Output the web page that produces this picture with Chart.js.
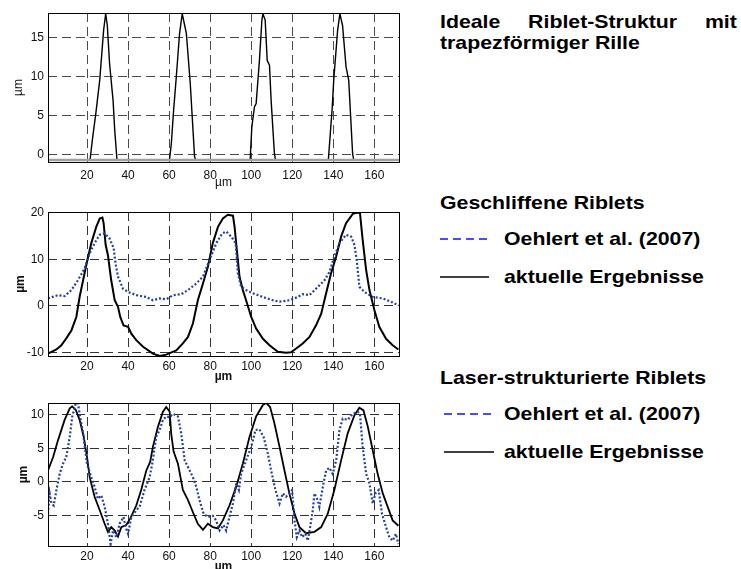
<!DOCTYPE html>
<html>
<head>
<meta charset="utf-8">
<script src="https://cdn.jsdelivr.net/npm/chart.js@4.4.1/dist/chart.umd.min.js"></script>
<style>
  html, body { margin: 0; padding: 0; background: #fff; overflow: hidden; }
  #page { position: relative; width: 741px; height: 569px; font-family: "Liberation Sans", Arial, sans-serif; }
  .plot { position: absolute; left: 0; width: 410px; }
  .txt { position: absolute; font-weight: bold; font-size: 19px; color: #000; white-space: nowrap;
         transform: translateY(-50%) scaleX(1.12); transform-origin: left center; }
  #title1 { position: absolute; left: 440px; top: 11px; width: 265px; font-weight: bold; font-size: 19px;
            line-height: 21px; text-align: justify; transform: scaleX(1.12); transform-origin: left top; }
  svg.key { position: absolute; }
</style>
</head>
<body>
<div id="page">
  <div class="plot" style="top:0px;height:190px"><canvas id="plotIdeal"></canvas></div>
  <div class="plot" style="top:190px;height:195px"><canvas id="plotGround"></canvas></div>
  <div class="plot" style="top:380px;height:196px"><canvas id="plotLaser"></canvas></div>

  <div id="title1">Ideale Riblet-Struktur mit trapezförmiger Rille</div>

  <div class="txt" style="left:440px;top:203px">Geschliffene Riblets</div>
  <svg class="key" style="left:440px;top:234px" width="60" height="10"><line x1="0" y1="5" x2="50" y2="5" stroke="#1010ff" stroke-width="1.6" stroke-dasharray="8,5"/></svg>
  <div class="txt" style="left:504px;top:239px">Oehlert et al. (2007)</div>
  <svg class="key" style="left:440px;top:272px" width="60" height="10"><line x1="0" y1="5" x2="49" y2="5" stroke="#000" stroke-width="1.6"/></svg>
  <div class="txt" style="left:504px;top:277px">aktuelle Ergebnisse</div>

  <div class="txt" style="left:440px;top:378px">Laser-strukturierte Riblets</div>
  <svg class="key" style="left:444px;top:409px" width="60" height="10"><line x1="0" y1="5" x2="50" y2="5" stroke="#1010ff" stroke-width="1.6" stroke-dasharray="8,5"/></svg>
  <div class="txt" style="left:504px;top:414px">Oehlert et al. (2007)</div>
  <svg class="key" style="left:444px;top:447px" width="60" height="10"><line x1="0" y1="5" x2="50" y2="5" stroke="#000" stroke-width="1.6"/></svg>
  <div class="txt" style="left:504px;top:452px">aktuelle Ergebnisse</div>
</div>

<script>
// x ticks shared by all three plots
const xTicks = [20, 40, 60, 80, 100, 120, 140, 160];

// ideal trapezoid riblet profile
const idealX = [1, 21.5, 22.6, 24.5, 26.2, 28.1, 29.1, 29.9, 31.0, 32.7, 33.5, 34.6,
  60.2, 61.1, 62.2, 63.5, 65.1, 66.4, 67.6, 68.4, 70.3, 72.4, 72.9,
  99.5, 100.3, 101.6, 102.4, 104, 105.2, 105.7, 106.8, 107.8, 108.9, 109.7, 111.3, 111.8,
  137.6, 138.6, 139.4, 140.2, 142.1, 143.2, 144.5, 146.2, 147.5, 149.4, 149.9, 172];
const idealY = [-0.6, -0.6, 1.9, 5.75, 9.6, 16, 18.1, 16.6, 11.7, 7, 3.2, -0.6,
  -0.6, 1.5, 5.75, 10, 15.6, 18.1, 16.6, 15.6, 9.2, -0.2, -0.6,
  -0.6, 3.6, 6.2, 6.6, 12.1, 17.3, 18.1, 17.3, 12.1, 11.5, 7, 0.2, -0.6,
  -0.6, 3, 5.8, 9.6, 16, 18.1, 16.6, 11.3, 9.6, 0.2, -0.6, -0.6];
const idealBaseX = [1, 172];
const idealBaseY = [-0.65, -0.65];
const idealYTicks = [0, 5, 10, 15];

// ground riblets
const groundAktX = [1, 5.1, 7.5, 9.9, 12.4, 14.8, 16.4, 18.1, 20, 22.1, 24.5, 26.2, 27.5, 28.1, 29.1, 30.2,
  31.8, 33.5, 35.1, 36.2, 37.8, 40, 41.6, 44, 47.3, 52.1, 55.4, 58.6, 63.5, 66.7, 69.2, 71.6, 74, 76.5,
  78.9, 81.3, 83.8, 86.2, 88.6, 91.1, 91.9, 93, 94.3, 95.9, 97.5, 100, 102.4, 105.7, 108.9, 113, 117,
  119.4, 121.9, 125.1, 128.4, 131.6, 134.1, 136.5, 138.9, 141.4, 143.8, 146.2, 149.5, 151.9, 153, 154.3,
  156, 157.6, 160, 162.4, 165.7, 168.9, 171.7];
const groundAktY = [-10.3, -9.4, -8.5, -7, -5.3, -2.4, 1.9, 5.5, 9.5, 13.5, 17, 18.8, 19, 17.8, 13.1, 10.9,
  5.5, 1.2, -0.2, -2.4, -4.2, -4.5, -6, -7.4, -8.8, -10.3, -10.8, -10.5, -9.6, -8.1, -6.7, -3.8, 1.2, 4.8,
  8.4, 13.5, 17, 18.8, 19.6, 19.4, 17, 12, 6.3, 3.4, 1.2, -2.4, -4.9, -7.1, -8.5, -9.9, -10.1,
  -10, -9.2, -8.1, -6.7, -4.2, -1.7, 2.7, 7, 10.6, 14.9, 17.8, 19.8, 20.1, 19.9, 14.2,
  7.7, 3.4, -0.9, -4.5, -7.1, -8.5, -9.4];
const groundOehX = [1, 5.9, 9.1, 12.4, 15.6, 18.9, 21.3, 23.7, 26.2, 28.6, 31, 33, 33.9, 35.1, 37.5, 40,
  44, 48.9, 52.1, 55.4, 58.6, 61.9, 65.9, 69.2, 73.2, 76.5, 79.7, 83, 85.9, 87.8, 90.3, 92.4, 93.5, 95.1,
  97.5, 100.8, 105.7, 110.5, 113.8, 118.6, 122.7, 125.1, 128.4, 131.6, 135.7, 138.1, 140.5, 143, 146.2,
  148.7, 150.3, 151.4, 152.7, 155.1, 159.2, 164.1, 168.1, 171.7];
const groundOehY = [1.6, 2.3, 2.1, 3.4, 5.5, 8.1, 11.3, 13.5, 15.3, 15.6, 14.5, 12.4, 9.1, 6.3, 3.7, 3,
  2.3, 1.9, 1.2, 1.6, 1.4, 2.3, 2.5, 3.4, 4.8, 6.3, 9.9, 13.5, 15.6, 16, 14.9, 13.5, 7, 4.1,
  3.4, 2.7, 1.9, 1.2, 0.9, 1.2, 1.9, 2.5, 2.3, 3.7, 5.5, 7.3, 10.6, 13.5, 15.3,
  14.9, 13.1, 9.9, 4.1, 3, 1.9, 1.6, 0.9, 0.1];
const groundYTicks = [-10, 0, 10, 20];

// laser structured riblets
const laserAktX = [1, 3.5, 5.9, 9.1, 11.6, 12.8, 14.5, 16.4, 18.4, 20, 21.3, 23.7, 26.2, 28.6, 30.2, 31.8,
  33.5, 35.1, 36.7, 39.1, 41.1, 44, 46.4, 48.9, 50.8, 52.1, 54.6, 57, 58.6, 60.3, 61, 62.2, 64.3, 66.7,
  69.2, 71.6, 74, 76.5, 78.9, 81.3, 83.8, 86.2, 89.4, 92.7, 95.9, 99.2, 102.4, 105.7, 107.3, 109.2,
  111.3, 113.8, 116.2, 118.6, 121.1, 123.5, 126.7, 130.8, 134.1, 137.3, 140.5, 143.8, 147, 150.3,
  152.7, 154.7, 156.8, 159.2, 161.6, 164.1, 166.5, 168.9, 171.7];
const laserAktY = [1.7, 3.7, 6.2, 9.2, 10.9, 11.2, 10.7, 9.2, 6.7, 3.7, 0.7, -2.2, -4.2, -6.2, -7.4, -6.7,
  -7.2, -8.1, -6.7, -6.4, -5.4, -3.5, -1.2, 1.7, 3, 5.2, 8.2, 10.4, 11.1, 10.4, 7.2, 4.5, 2.7, -1.2,
  -2.7, -4.5, -6.2, -7.1, -6.2, -6.7, -6.9, -5.7, -3.5, -0.7, 2.7, 6.7, 9.7, 11.4, 11.7, 11.1,
  8.7, 5.2, 1.7, -1.7, -4.7, -6.7, -7.6, -7.4, -6.7, -4.7, -1.2, 3.2, 7.2, 9.9,
  11, 10.6, 8.2, 4.7, 1.2, -1.7, -3.7, -5.7, -6.5];
const laserOehX = [1, 1.8, 2.7, 3.8, 5.1, 6.7, 8.3, 9.9, 11.6, 12.8, 14.5, 15.6, 16.4, 18.1, 20, 22.1,
  23.7, 25.3, 27, 28.6, 30.2, 31.5, 32.7, 34.3, 35.9, 37.8, 38.8, 40, 41.6, 44, 45.6, 48, 50.5, 52.1,
  53.7, 55.4, 57, 58.6, 60.3, 61.9, 64.3, 65.9, 67.6, 69.2, 71.6, 73.2, 74.8, 76.8, 78.9, 81.3, 82.9,
  84.6, 86.5, 87.8, 89.4, 91.1, 92.7, 94, 95.1, 97.5, 100, 102.1, 104, 106, 108.1, 109.7, 111.8,
  113.8, 115.4, 117, 118.6, 119.9, 121.1, 122.2, 123.5, 124.8, 126.4, 127.6, 128.7, 130, 130.8,
  132.4, 133.2, 134.9, 136.5, 138.1, 139.7, 141.4, 143, 144.6, 147, 149.5, 151.9, 153, 154.3, 156,
  157.6, 159.2, 160.5, 162.1, 163.7, 165.7, 167.3, 168.9, 170.5, 171.7];
const laserOehY = [-4.7, -1.7, -3.2, -3.5, -1.2, 1.2, 2.7, 3.7, 6.7, 9.7, 11.6, 11.7, 10.1, 7.2, 2.7, 0.7,
  -0.7, -2.5, -2, -3.7, -6.2, -9.2, -7.2, -8.2, -6.2, -5.2, -6.7, -7.7, -5.2, -4.2, -3.7, -1.2, 0.7, 3.2,
  6.7, 7.7, 9.2, 9.7, 9.6, 10.1, 9.7, 7.2, 3.2, 2.2, 0.7, -0.7, -2.7, -4.7, -5.2, -5, -5.7,
  -7.2, -6.4, -7.2, -5.2, -3.2, -0.2, -1.2, 1.2, 3.2, 5.2, 7.7, 7.8, 6.7, 4.2, 1.7, -1.2,
  -3.2, -1.7, -2.2, -1.7, -1.2, -5.7, -8.2, -7.2, -8.2, -7.7, -8.7, -6.7, -4.2, -1.7,
  -2.7, -3.7, -0.7, 1.7, 2.1, 1.2, 3.2, 7.7, 9.4, 9.2, 10.1, 10.4, 10.1, 5.2, 1.2,
  -0.2, -3.2, -1.7, -1.2, -4.7, -6.7, -8.2, -8.7, -7.7, -9.2];
const laserYTicks = [-5, 0, 5, 10];

function pts(xs, ys) {
  return xs.map((x, i) => ({ x: x, y: ys[i] }));
}

// draws the closed black frame round the plot area
const frame = {
  id: 'frame',
  afterDraw(chart) {
    const a = chart.chartArea, ctx = chart.ctx;
    ctx.save();
    ctx.strokeStyle = '#000';
    ctx.lineWidth = 1;
    ctx.strokeRect(Math.round(a.left) + 0.5, Math.round(a.top) + 0.5,
      Math.round(a.right - a.left), Math.round(a.bottom - a.top));
    ctx.restore();
  }
};

function makePlot(id, o) {
  return new Chart(document.getElementById(id), {
    type: 'line',
    data: { datasets: o.datasets },
    plugins: [frame],
    options: {
      responsive: true,
      maintainAspectRatio: false,
      animation: false,
      layout: { padding: { top: o.top, right: 11, left: 0, bottom: 0 } },
      plugins: { legend: { display: false }, tooltip: { enabled: false } },
      elements: { point: { radius: 0 }, line: { tension: 0 } },
      scales: {
        x: {
          type: 'linear', min: 1, max: 172,
          afterBuildTicks: s => { s.ticks = xTicks.map(v => ({ value: v })); },
          afterFit: s => { s.height = o.xHeight; },
          grid: { color: o.gridColor, lineWidth: 1, drawTicks: false },
          border: { display: false, dash: [9, 5] },
          ticks: { padding: o.xPad, color: '#111', font: { family: 'Liberation Sans', size: 12 }, maxRotation: 0 },
          title: { display: true, text: 'µm', color: '#111', padding: { top: 0, bottom: o.xTitlePad },
                   font: { family: 'Liberation Sans', size: 12, weight: o.bold ? 'bold' : 'normal' } }
        },
        y: {
          type: 'linear', min: o.yMin, max: o.yMax,
          afterBuildTicks: s => { s.ticks = o.yTicks.map(v => ({ value: v })); },
          afterFit: s => { s.width = 48; },
          grid: { color: o.gridColor, lineWidth: 1, drawTicks: false },
          border: { display: false, dash: [9, 5] },
          ticks: { padding: 4, color: '#111', font: { family: 'Liberation Sans', size: 12 } },
          title: { display: true, text: 'µm', color: '#111', padding: { top: o.yTitlePad, bottom: 0 },
                   font: { family: 'Liberation Sans', size: 12, weight: o.bold ? 'bold' : 'normal' } }
        }
      }
    }
  });
}

makePlot('plotIdeal', {
  top: 13, xHeight: 28, xPad: 6, xTitlePad: 0, yTitlePad: 11, bold: false,
  yMin: -0.9, yMax: 18.2, yTicks: idealYTicks, gridColor: '#4a4a4a',
  datasets: [
    { data: pts(idealBaseX, idealBaseY), borderColor: '#a0a0a0', borderWidth: 2.5 },
    { data: pts(idealX, idealY), borderColor: '#000', borderWidth: 1.4 }
  ]
});

makePlot('plotGround', {
  top: 22, xHeight: 29, xPad: 3, xTitlePad: 1, yTitlePad: 13, bold: true,
  yMin: -10.8, yMax: 20.2, yTicks: groundYTicks, gridColor: '#333',
  datasets: [
    { data: pts(groundOehX, groundOehY), borderColor: '#2340a0', borderWidth: 2.2, borderDash: [2, 2] },
    { data: pts(groundAktX, groundAktY), borderColor: '#000', borderWidth: 2 }
  ]
});

makePlot('plotLaser', {
  top: 23, xHeight: 30, xPad: 3, xTitlePad: 2, yTitlePad: 16, bold: true,
  yMin: -9.5, yMax: 11.7, yTicks: laserYTicks, gridColor: '#333',
  datasets: [
    { data: pts(laserOehX, laserOehY), borderColor: '#2340a0', borderWidth: 2.2, borderDash: [2, 2] },
    { data: pts(laserAktX, laserAktY), borderColor: '#000', borderWidth: 1.8 }
  ]
});
</script>
</body>
</html>
